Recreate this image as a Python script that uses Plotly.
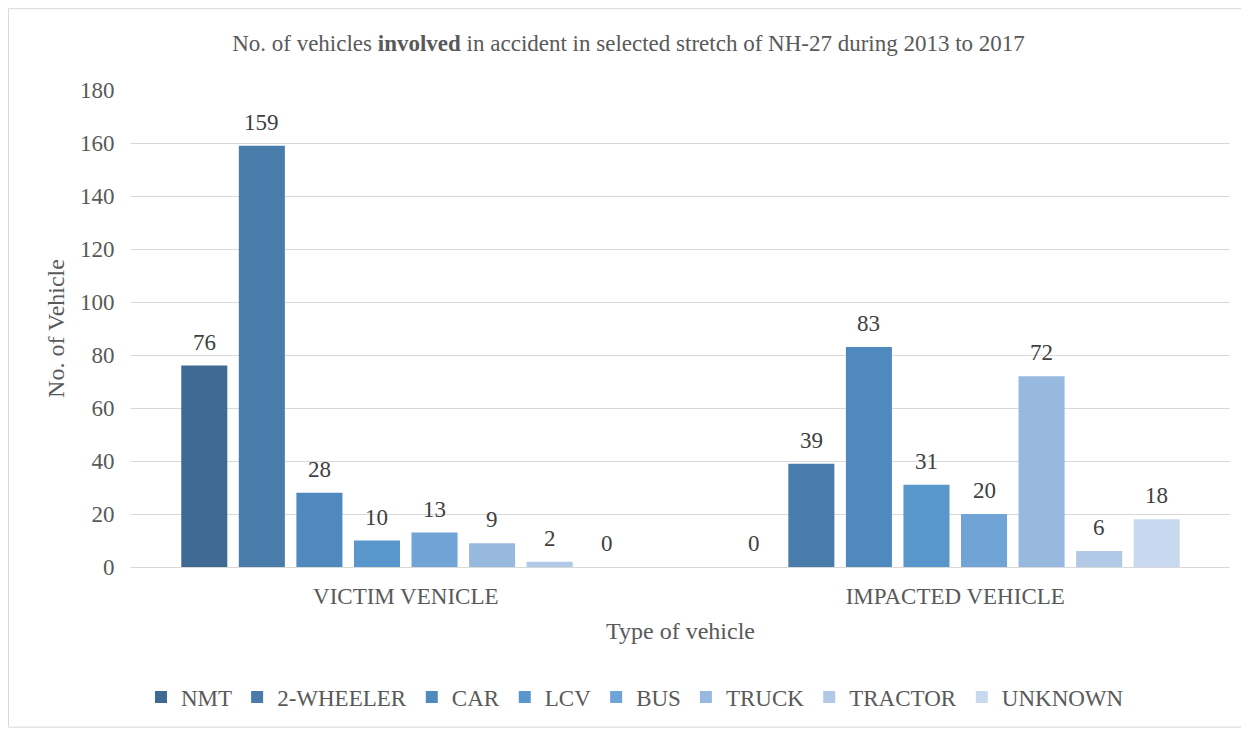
import plotly.graph_objects as go

categories = ["VICTIM VENICLE", "IMPACTED VEHICLE"]
series_names = ["NMT", "2-WHEELER", "CAR", "LCV", "BUS", "TRUCK", "TRACTOR", "UNKNOWN"]
nmt = [76, 0]
two_wheeler = [159, 39]
car = [28, 83]
lcv = [10, 31]
bus = [13, 20]
truck = [9, 72]
tractor = [2, 6]
unknown = [0, 18]
series_values = [nmt, two_wheeler, car, lcv, bus, truck, tractor, unknown]
colors = ["#3E6A93", "#497CAB", "#5089BE", "#5896CC", "#70A4D6", "#98B9DF", "#B1C9E6", "#C8D8EE"]

FONT = "Liberation Serif, Times New Roman, serif"

W, H = 1241, 721
L, R, T, B = 123, 19, 82, 161
pw, ph = W - L - R, H - T - B
BARGAP, GROUPGAP = 0.162, 0.2

def px_y(p):
    return (H - B - p) / ph

fig = go.Figure()
for name, vals, col in zip(series_names, series_values, colors):
    fig.add_trace(go.Bar(
        name=name, x=categories, y=vals, marker_color=col,
        marker_line_width=0, hoverinfo="x+y+name",
    ))

# data labels placed above each bar (offset of the bar inside its group)
n = len(series_names)
cat_px = pw / len(categories)
slot_px = (1 - BARGAP) / n * cat_px
annotations = []
for i, vals in enumerate(series_values):
    for c, v in zip(categories, vals):
        annotations.append(dict(
            x=c, y=v, xref="x", yref="y", text=str(v), showarrow=False,
            xshift=(i - (n - 1) / 2) * slot_px, yanchor="bottom", yshift=9,
            font=dict(family=FONT, size=23, color="#404040"),
        ))

fig.update_layout(
    width=W, height=H,
    margin=dict(l=L, r=R, t=T, b=B),
    paper_bgcolor="white", plot_bgcolor="white",
    barmode="group", bargap=BARGAP, bargroupgap=GROUPGAP,
    font=dict(family=FONT, color="#595959", size=23),
    title=dict(
        text="No. of vehicles <b>involved</b> in accident in selected stretch of NH-27 during 2013 to 2017",
        x=0.5, xanchor="center", y=1 - 35 / H, yanchor="middle",
        font=dict(family=FONT, size=23, color="#595959"),
    ),
    xaxis=dict(
        title=dict(text="Type of vehicle", font=dict(family=FONT, size=24, color="#595959"), standoff=14),
        tickfont=dict(family=FONT, size=23, color="#595959"),
        showline=True, linecolor="#D9D9D9", linewidth=1,
        ticks="outside", ticklen=8, tickcolor="rgba(0,0,0,0)",
    ),
    yaxis=dict(
        title=dict(text="No. of Vehicle", font=dict(family=FONT, size=24, color="#595959"), standoff=8),
        range=[0, 180], dtick=20,
        tickfont=dict(family=FONT, size=23, color="#595959"),
        gridcolor="#D9D9D9", gridwidth=1, zeroline=False,
        ticks="outside", ticklen=11, tickcolor="rgba(0,0,0,0)",
    ),
    legend=dict(
        orientation="h", x=(635 - 8 - L) / pw, xanchor="center", y=px_y(689), yanchor="middle",
        font=dict(family=FONT, size=23, color="#595959"),
        itemwidth=30, tracegroupgap=0,
    ),
    annotations=annotations,
    shapes=[dict(
        type="rect", xref="paper", yref="paper",
        x0=(0.5 - L) / pw, x1=(W + 2 - L) / pw, y0=px_y(H - 0.5), y1=px_y(0.5),
        line=dict(color="#D9D9D9", width=1), layer="below",
    )],
)

fig.write_html("out.html")
